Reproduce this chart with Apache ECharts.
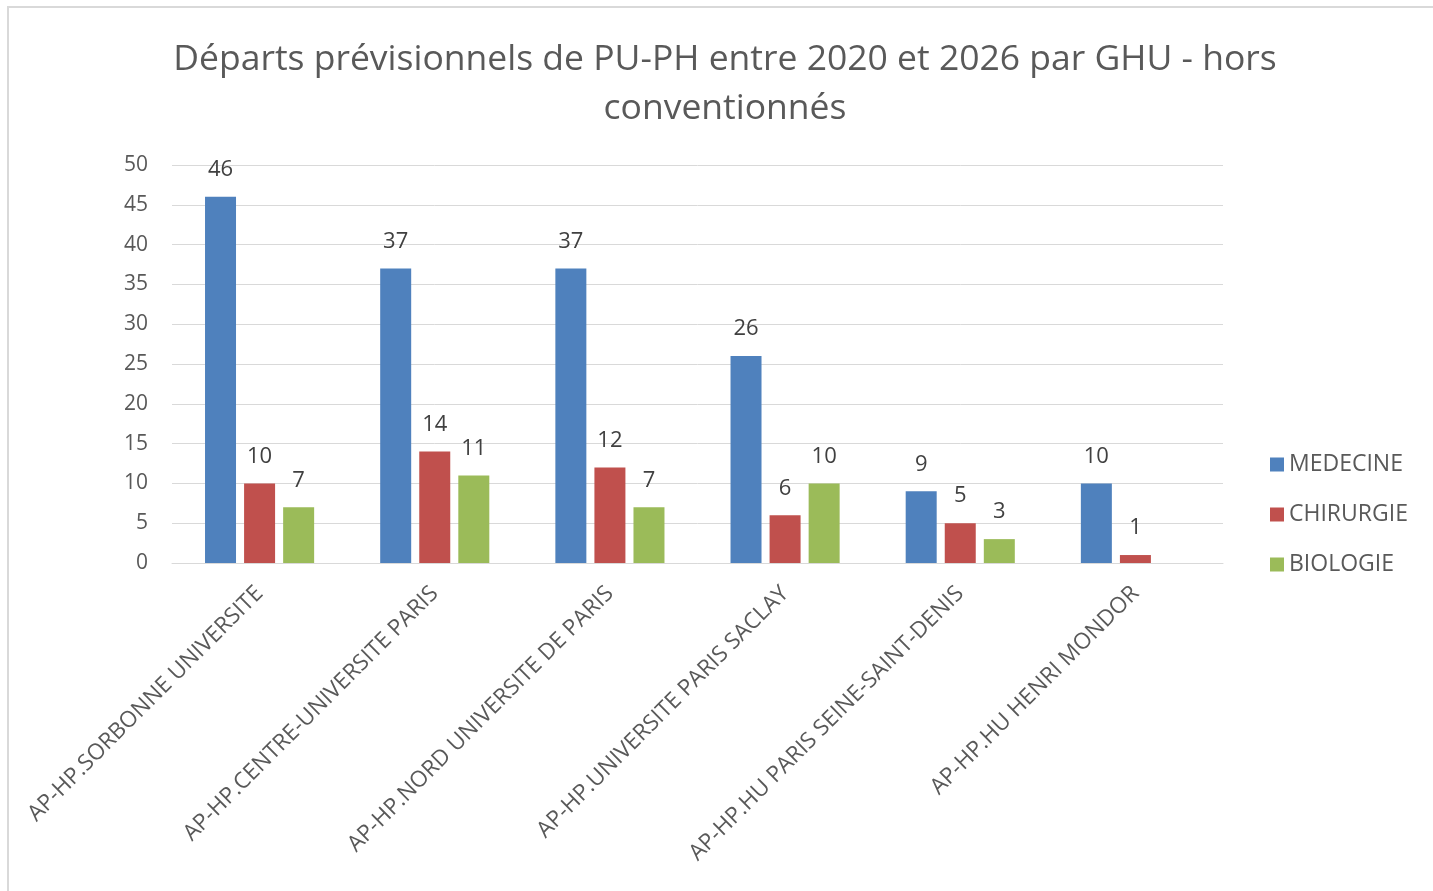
<!DOCTYPE html>
<html>
<head>
<meta charset="utf-8">
<script src="https://cdn.jsdelivr.net/npm/echarts@6/dist/echarts.min.js"></script>
<style>
  html, body { margin: 0; padding: 0; background: #fff; overflow: hidden; }
  #frame { position: absolute; left: 7px; top: 6px; width: 1500px; height: 1000px; border: 2px solid #d9d9d9; }
  #main { position: absolute; left: 0; top: 0; width: 1433px; height: 891px; }
</style>
</head>
<body>
<div id="frame"></div>
<div id="main"></div>
<script>
// categories (GHU) and values per discipline
const categories = [
  'AP-HP.SORBONNE UNIVERSITE',
  'AP-HP.CENTRE-UNIVERSITE PARIS',
  'AP-HP.NORD UNIVERSITE DE PARIS',
  'AP-HP.UNIVERSITE PARIS SACLAY',
  'AP-HP.HU PARIS SEINE-SAINT-DENIS',
  'AP-HP.HU HENRI MONDOR'
]
const medecine = [46, 37, 37, 26, 9, 10]
const chirurgie = [10, 14, 12, 6, 5, 1]
const biologie = [7, 11, 7, 10, 3, null]
const seriesNames = ['MEDECINE', 'CHIRURGIE', 'BIOLOGIE']
const colors = ['#4f81bd', '#c0504d', '#9bbb59']

const font = '"Open Sans", sans-serif'
const textColor = '#595959'

const myEcharts = echarts.init(document.getElementById('main'))

const makeSeries = (name, data, color) => ({
  name: name,
  type: 'bar',
  data: data,
  barWidth: 31,
  barGap: '26%',
  itemStyle: { color: color },
  label: {
    show: true,
    position: 'top',
    distance: 16,
    color: '#404040',
    fontSize: 22,
    fontFamily: font
  }
})

const options = {
  animation: false,
  title: {
    text: 'Départs prévisionnels de PU-PH entre 2020 et 2026 par GHU - hors\nconventionnés',
    left: 720,
    textAlign: 'center',
    top: 30,
    textStyle: {
      color: textColor,
      fontSize: 35.5,
      fontWeight: 'normal',
      fontFamily: font,
      lineHeight: 49
    }
  },
  legend: {
    orient: 'vertical',
    left: 1265,
    top: 448,
    itemWidth: 14,
    itemHeight: 14,
    itemGap: 27,
    icon: 'rect',
    textStyle: { color: textColor, fontSize: 23, fontFamily: font },
    data: seriesNames
  },
  grid: {
    left: 172,
    right: 1433 - 1223,
    top: 165,
    bottom: 891 - 563,
    containLabel: false
  },
  xAxis: {
    type: 'category',
    data: categories,
    axisLine: { lineStyle: { color: '#d9d9d9', width: 1 } },
    axisTick: { show: false },
    axisLabel: {
      rotate: 45,
      interval: 0,
      margin: 27,
      color: textColor,
      fontSize: 22.5,
      fontFamily: font
    }
  },
  yAxis: {
    type: 'value',
    min: 0,
    max: 50,
    interval: 5,
    axisLine: { show: false },
    axisTick: { show: false },
    splitLine: { lineStyle: { color: '#d9d9d9', width: 1 } },
    axisLabel: { color: textColor, fontSize: 21, fontFamily: font, margin: 24 }
  },
  series: [
    makeSeries(seriesNames[0], medecine, colors[0]),
    makeSeries(seriesNames[1], chirurgie, colors[1]),
    makeSeries(seriesNames[2], biologie, colors[2])
  ]
}
myEcharts.setOption(options)
</script>
</body>
</html>
